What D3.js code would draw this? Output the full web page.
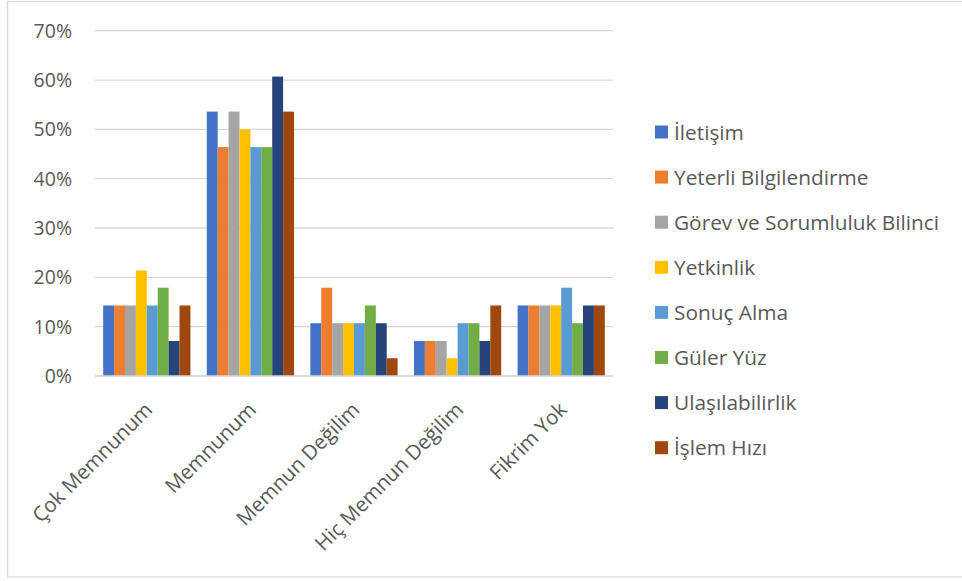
<!DOCTYPE html>
<html>
<head>
<meta charset="utf-8">
<script src="https://cdn.jsdelivr.net/npm/d3@7"></script>
<style>
  html, body { margin: 0; padding: 0; background: #fff; }
  svg { display: block; }
  text { font-family: "Open Sans", Lato, sans-serif; fill: #595959; }
</style>
</head>
<body>
<svg id="chart" width="962" height="581"></svg>
<script>
const categories = ["Çok Memnunum", "Memnunum", "Memnun Değilim", "Hiç Memnun Değilim", "Fikrim Yok"];
const seriesNames = ["İletişim", "Yeterli Bilgilendirme", "Görev ve Sorumluluk Bilinci", "Yetkinlik", "Sonuç Alma", "Güler Yüz", "Ulaşılabilirlik", "İşlem Hızı"];
const seriesColors = ["#4472C4", "#ED7D31", "#A5A5A5", "#FFC000", "#5B9BD5", "#70AD47", "#264478", "#9E480E"];
// values per series, in category order (%)
const iletisim      = [14.3, 53.6, 10.7, 7.1, 14.3];
const yeterli       = [14.3, 46.4, 17.9, 7.1, 14.3];
const gorev         = [14.3, 53.6, 10.7, 7.1, 14.3];
const yetkinlik     = [21.4, 50.0, 10.7, 3.6, 14.3];
const sonuc         = [14.3, 46.4, 10.7, 10.7, 17.9];
const guler         = [17.9, 46.4, 14.3, 10.7, 10.7];
const ulasilabilir  = [7.1, 60.7, 10.7, 7.1, 14.3];
const islemHizi     = [14.3, 53.6, 3.6, 14.3, 14.3];
const yTicks = [0, 10, 20, 30, 40, 50, 60, 70];

const seriesValues = [iletisim, yeterli, gorev, yetkinlik, sonuc, guler, ulasilabilir, islemHizi];

const svg = d3.select("#chart");
const plotLeft = 95, plotRight = 613, plotTop = 30.7, plotBottom = 376;

// outer border
svg.append("rect").attr("x", 7.5).attr("y", 1.5).attr("width", 970).attr("height", 575.5)
  .attr("fill", "none").attr("stroke", "#d9d9d9").attr("stroke-width", 1.3);

const bandW = (plotRight - plotLeft) / categories.length;
const x0c = d3.scalePoint().domain(categories).range([plotLeft + bandW/2, plotRight - bandW/2]);
const barW = bandW / (seriesNames.length + 1.5);
const x1 = d3.scaleBand().domain(seriesNames).range([-barW*seriesNames.length/2, barW*seriesNames.length/2]);

const y = d3.scaleLinear().domain([0, 70]).range([plotBottom, plotTop]);

// gridlines
svg.append("g").selectAll("line").data(yTicks).join("line")
  .attr("x1", plotLeft).attr("x2", plotRight)
  .attr("y1", d => y(d)).attr("y2", d => y(d))
  .attr("stroke", "#d9d9d9").attr("stroke-width", 1.3);

// y labels
svg.append("g").selectAll("text").data(yTicks).join("text")
  .attr("x", 72).attr("y", d => y(d)).attr("dy", "0.36em")
  .attr("text-anchor", "end").style("font-size", "19.5px")
  .text(d => d + "%");

// bars
const groups = svg.append("g").selectAll("g").data(seriesNames).join("g")
  .attr("fill", (d, i) => seriesColors[i]);
groups.selectAll("rect").data((s, i) => categories.map((c, j) => ({c, s, v: seriesValues[i][j]})))
  .join("rect")
  .attr("x", d => x0c(d.c) + x1(d.s))
  .attr("width", x1.bandwidth())
  .attr("y", d => y(d.v))
  .attr("height", d => y(0) - y(d.v));

// axis baseline
svg.append("line").attr("x1", plotLeft).attr("x2", plotRight).attr("y1", y(0)).attr("y2", y(0))
  .attr("stroke", "#d9d9d9").attr("stroke-width", 1.5);

// x labels
svg.append("g").selectAll("text").data(categories).join("text")
  .attr("transform", d => `translate(${x0c(d) + 7},${411}) rotate(-45)`)
  .attr("text-anchor", "end").style("font-size", "20.5px")
  .text(d => d);

// legend
const leg = svg.append("g").selectAll("g").data(seriesNames).join("g")
  .attr("transform", (d, i) => `translate(655,${132 + i*45.1})`);
leg.append("rect").attr("x", 0).attr("y", -6.5).attr("width", 13).attr("height", 13)
  .attr("fill", (d, i) => seriesColors[i]);
leg.append("text").attr("x", 19).attr("y", 0).attr("dy", "0.36em")
  .style("font-size", "20.8px").text(d => d);
</script>
</body>
</html>
